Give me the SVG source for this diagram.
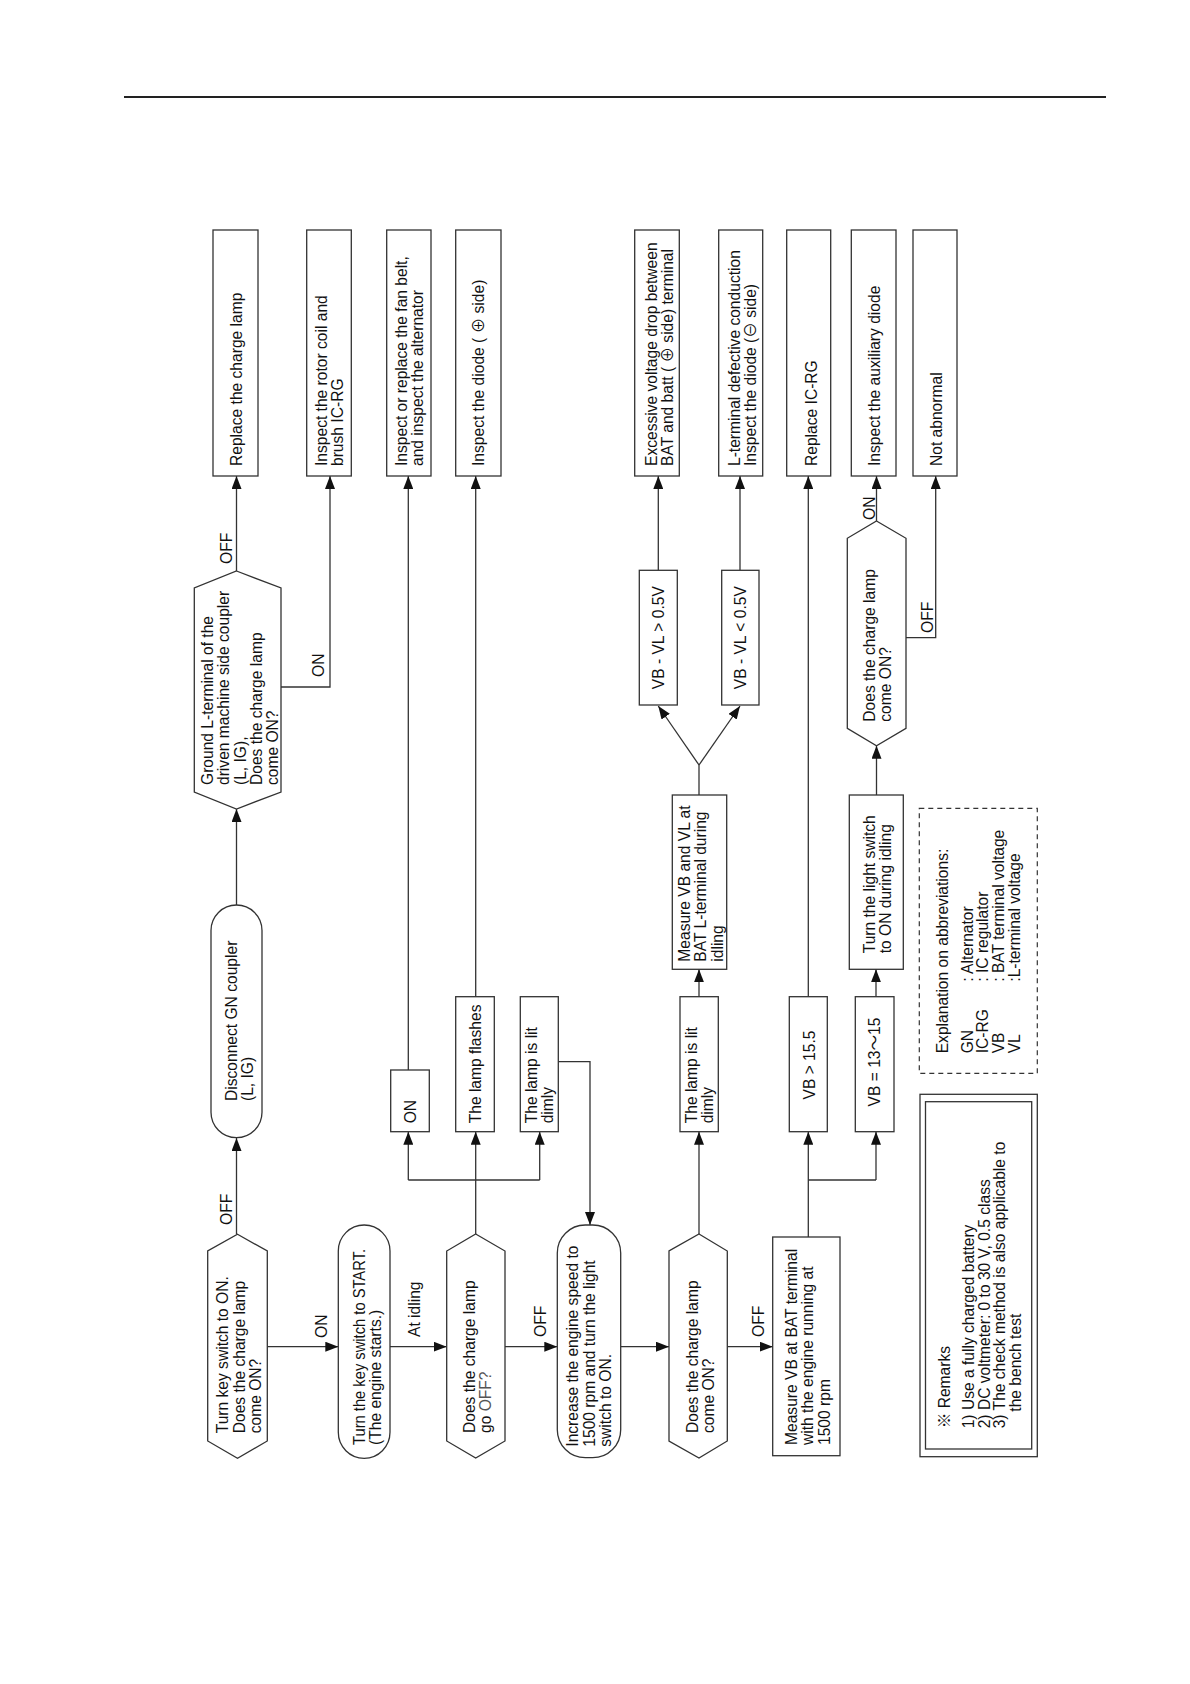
<svg xmlns="http://www.w3.org/2000/svg" width="1190" height="1684" viewBox="0 0 1190 1684">
<defs>
<marker id="arr" markerUnits="userSpaceOnUse" markerWidth="14" markerHeight="10" refX="13" refY="5" orient="auto">
<path d="M0,0 L13,5 L0,10 z" fill="#111"/>
</marker>
<style>
text{font-family:"Liberation Sans",Arial,"Noto Sans CJK JP",sans-serif;font-size:15.6px;fill:#111}
.box{fill:#fff;stroke:#333;stroke-width:1.3}
.dash{fill:none;stroke:#333;stroke-width:1.2;stroke-dasharray:5,4}
.ln{fill:none;stroke:#333;stroke-width:1.3}
.ar{fill:none;stroke:#333;stroke-width:1.3;marker-end:url(#arr)}
.mid{text-anchor:middle}
</style>
</defs>
<rect width="1190" height="1684" fill="#fff"/>
<line x1="124" y1="97" x2="1106" y2="97" stroke="#222" stroke-width="1.8"/>

<g id="connectors">
<line class="ar" x1="236.5" y1="1234" x2="236.5" y2="1138"/>
<line class="ar" x1="236.5" y1="905" x2="236.5" y2="809"/>
<line class="ar" x1="236.5" y1="571" x2="236.5" y2="476"/>
<polyline class="ar" points="281,687 330,687 330,476"/>
<line class="ar" x1="267.3" y1="1346.7" x2="338.3" y2="1346.7"/>
<line class="ar" x1="390" y1="1346.7" x2="446.7" y2="1346.7"/>
<line class="ar" x1="475.7" y1="1234" x2="475.7" y2="1131.7"/>
<line class="ln" x1="408.3" y1="1180" x2="539.7" y2="1180"/>
<line class="ar" x1="408.3" y1="1180" x2="408.3" y2="1131.7"/>
<line class="ar" x1="539.7" y1="1180" x2="539.7" y2="1131.7"/>
<line class="ar" x1="408.3" y1="1070" x2="408.3" y2="476"/>
<line class="ar" x1="475.7" y1="996.7" x2="475.7" y2="476"/>
<polyline class="ar" points="558.3,1061.7 590,1061.7 590,1225"/>
<line class="ar" x1="505" y1="1346.7" x2="557.3" y2="1346.7"/>
<line class="ar" x1="620.7" y1="1346.7" x2="669" y2="1346.7"/>
<line class="ar" x1="699" y1="1234" x2="699" y2="1131.7"/>
<line class="ar" x1="699" y1="996.7" x2="699" y2="969.3"/>
<line class="ln" x1="699" y1="795" x2="699" y2="765"/>
<line class="ar" x1="699" y1="765" x2="658.3" y2="706"/>
<line class="ar" x1="699" y1="765" x2="740" y2="706"/>
<line class="ar" x1="658.3" y1="570.3" x2="658.3" y2="476"/>
<line class="ar" x1="740" y1="570.3" x2="740" y2="476"/>
<line class="ar" x1="727.3" y1="1346.7" x2="772.7" y2="1346.7"/>
<line class="ar" x1="808.3" y1="1237" x2="808.3" y2="1131.7"/>
<line class="ln" x1="808.3" y1="1180" x2="876" y2="1180"/>
<line class="ar" x1="876" y1="1180" x2="876" y2="1131.7"/>
<line class="ar" x1="808.3" y1="996.7" x2="808.3" y2="476"/>
<line class="ar" x1="876" y1="996.7" x2="876" y2="969.3"/>
<line class="ar" x1="876.5" y1="795" x2="876.5" y2="745.7"/>
<line class="ar" x1="876.5" y1="521" x2="876.5" y2="476"/>
<polyline class="ar" points="906,637.7 935.7,637.7 935.7,476"/>
<text transform="translate(231.7,1225) rotate(-90)">OFF</text>
<text transform="translate(326.7,1338) rotate(-90)">ON</text>
<text transform="translate(419.5,1337) rotate(-90)">At idling</text>
<text transform="translate(546,1337) rotate(-90)">OFF</text>
<text transform="translate(764,1337) rotate(-90)">OFF</text>
<text transform="translate(232,564) rotate(-90)">OFF</text>
<text transform="translate(324,677) rotate(-90)">ON</text>
<text transform="translate(874.5,520) rotate(-90)">ON</text>
<text transform="translate(932.5,633) rotate(-90)">OFF</text>
</g>

<g id="n-replace-lamp"><rect class="box" x="213" y="230" width="45" height="246"/>
<text transform="translate(241.5,466) rotate(-90)">Replace the charge lamp</text></g>
<g id="n-rotor"><rect class="box" x="306.7" y="230" width="44.6" height="246"/>
<text transform="translate(326.7,466) rotate(-90)"><tspan x="0" y="0">Inspect the rotor coil and</tspan><tspan x="0" y="16.4">brush IC-RG</tspan></text></g>
<g id="n-fanbelt"><rect class="box" x="386.7" y="230" width="44.3" height="246"/>
<text transform="translate(406.7,466) rotate(-90)"><tspan x="0" y="0">Inspect or replace the fan belt,</tspan><tspan x="0" y="16.4">and inspect the alternator</tspan></text></g>
<g id="n-diode-plus"><rect class="box" x="455.7" y="230" width="45.3" height="246"/>
<text transform="translate(483.5,466) rotate(-90)">Inspect the diode ( ⊕ side)</text></g>
<g id="n-excessive"><rect class="box" x="634.7" y="230" width="44.6" height="246"/>
<text transform="translate(656.7,466) rotate(-90)"><tspan x="0" y="0">Excessive voltage drop between</tspan><tspan x="0" y="16.4">BAT and batt ( ⊕ side) terminal</tspan></text></g>
<g id="n-lterminal"><rect class="box" x="718.7" y="230" width="44" height="246"/>
<text transform="translate(740,466) rotate(-90)"><tspan x="0" y="0">L-terminal defective conduction</tspan><tspan x="0" y="16.4">Inspect the diode (⊖ side)</tspan></text></g>
<g id="n-replace-icrg"><rect class="box" x="786.7" y="230" width="44" height="246"/>
<text transform="translate(816.5,466) rotate(-90)">Replace IC-RG</text></g>
<g id="n-aux-diode"><rect class="box" x="851.3" y="230" width="44.7" height="246"/>
<text transform="translate(880,466) rotate(-90)">Inspect the auxiliary diode</text></g>
<g id="n-not-abnormal"><rect class="box" x="913" y="230" width="44" height="246"/>
<text transform="translate(941.5,466) rotate(-90)">Not abnormal</text></g>

<g id="n-ground"><polygon class="box" points="236.5,571 281,588 281,792 236.5,809 194.3,792 194.3,588"/>
<text transform="translate(212.7,785) rotate(-90)"><tspan x="0" y="0">Ground L-terminal of the</tspan><tspan x="0" y="16.45">driven machine side coupler</tspan><tspan x="0" y="32.9">(L, IG),</tspan><tspan x="0" y="49.35">Does the charge lamp</tspan><tspan x="0" y="65.8">come ON?</tspan></text></g>
<g id="n-disconnect"><rect class="box" x="211" y="905" width="51" height="232.7" rx="25.5" ry="25.5"/>
<text transform="translate(236.7,1101) rotate(-90)"><tspan x="0" y="0">Disconnect GN coupler</tspan><tspan x="0" y="16.4">(L, IG)</tspan></text></g>
<g id="n-turnkey"><polygon class="box" points="237.5,1234.3 267.3,1251 267.3,1441 237.5,1458.3 207.7,1441 207.7,1251"/>
<text transform="translate(228.3,1433.3) rotate(-90)"><tspan x="0" y="0">Turn key switch to ON.</tspan><tspan x="0" y="16.3">Does the charge lamp</tspan><tspan x="0" y="32.6">come ON?</tspan></text></g>
<g id="n-start"><rect class="box" x="338.3" y="1225" width="51.7" height="233.3" rx="26" ry="26"/>
<text transform="translate(364.5,1445) rotate(-90)"><tspan x="0" y="0" textLength="196" lengthAdjust="spacingAndGlyphs">Turn the key switch to START.</tspan><tspan x="0" y="16.4">(The engine starts.)</tspan></text></g>
<g id="n-gooff"><polygon class="box" points="475.7,1234 505,1251 505,1441 475.7,1458 446.7,1441 446.7,1251"/>
<text transform="translate(474.5,1433) rotate(-90)"><tspan x="0" y="0">Does the charge lamp</tspan><tspan x="0" y="16.4">go <tspan fill="#555">OFF?</tspan></tspan></text></g>
<g id="n-on"><rect class="box" x="390.7" y="1070" width="38.6" height="61.7"/>
<text transform="translate(416,1123.3) rotate(-90)">ON</text></g>
<g id="n-flashes"><rect class="box" x="455.7" y="996.7" width="38.6" height="135"/>
<text transform="translate(481,1123.3) rotate(-90)">The lamp flashes</text></g>
<g id="n-dimly1"><rect class="box" x="520.3" y="996.7" width="38" height="135"/>
<text transform="translate(536.7,1123.3) rotate(-90)"><tspan x="0" y="0">The lamp is lit</tspan><tspan x="0" y="16.4">dimly</tspan></text></g>
<g id="n-increase"><rect class="box" x="557.3" y="1225" width="63.4" height="232.7" rx="28" ry="28"/>
<text transform="translate(578,1446.7) rotate(-90)"><tspan x="0" y="0">Increase the engine speed to</tspan><tspan x="0" y="16.5">1500 rpm and turn the light</tspan><tspan x="0" y="33">switch to ON.</tspan></text></g>
<g id="n-comeon"><polygon class="box" points="699,1234 727.3,1251 727.3,1441 699,1458 669,1441 669,1251"/>
<text transform="translate(697.8,1433) rotate(-90)"><tspan x="0" y="0">Does the charge lamp</tspan><tspan x="0" y="16.4">come ON?</tspan></text></g>
<g id="n-dimly2"><rect class="box" x="680" y="996.7" width="38.3" height="135"/>
<text transform="translate(696.7,1123.3) rotate(-90)"><tspan x="0" y="0">The lamp is lit</tspan><tspan x="0" y="16.4">dimly</tspan></text></g>
<g id="n-measure-vl"><rect class="box" x="672.3" y="795" width="54.4" height="174.3"/>
<text transform="translate(690,961.7) rotate(-90)"><tspan x="0" y="0">Measure VB and VL at</tspan><tspan x="0" y="16.4">BAT L-terminal during</tspan><tspan x="0" y="32.8">idling</tspan></text></g>
<g id="n-vbvl-gt"><rect class="box" x="639.3" y="570.3" width="38" height="134.7"/>
<text class="mid" transform="translate(663.5,637.7) rotate(-90)">VB - VL &gt; 0.5V</text></g>
<g id="n-vbvl-lt"><rect class="box" x="721.7" y="570.3" width="37.3" height="134.7"/>
<text class="mid" transform="translate(745.5,637.7) rotate(-90)">VB - VL &lt; 0.5V</text></g>
<g id="n-measure-vb"><rect class="box" x="772.7" y="1237" width="67.3" height="218.7"/>
<text transform="translate(796.5,1445) rotate(-90)"><tspan x="0" y="0">Measure VB at BAT terminal</tspan><tspan x="0" y="16.5">with the engine running at</tspan><tspan x="0" y="33">1500 rpm</tspan></text></g>
<g id="n-vb-gt"><rect class="box" x="789.3" y="996.7" width="38" height="135"/>
<text class="mid" transform="translate(814.5,1065) rotate(-90)">VB &gt; 15.5</text></g>
<g id="n-vb-range"><rect class="box" x="855.3" y="996.7" width="38.7" height="135"/>
<text class="mid" transform="translate(880,1062) rotate(-90)">VB = 13～15</text></g>
<g id="n-light"><rect class="box" x="849.3" y="795" width="54" height="174.3"/>
<text transform="translate(874.5,953.3) rotate(-90)"><tspan x="0" y="0">Turn the light switch</tspan><tspan x="0" y="16.4">to ON during idling</tspan></text></g>
<g id="n-comeon2"><polygon class="box" points="876.5,521 906,538.3 906,728.3 876.5,745.7 847.3,728.3 847.3,538.3"/>
<text transform="translate(874.7,721.7) rotate(-90)"><tspan x="0" y="0">Does the charge lamp</tspan><tspan x="0" y="16.4">come ON?</tspan></text></g>

<g id="n-explanation"><rect class="dash" x="919.3" y="808.3" width="118" height="265"/>
<text transform="translate(948.3,1053.3) rotate(-90)"><tspan x="0" y="0">Explanation on abbreviations:</tspan>
<tspan x="0" y="24.4">GN</tspan><tspan x="71.6" y="24.4">: Alternator</tspan>
<tspan x="0" y="40">IC-RG</tspan><tspan x="71.6" y="40">: IC regulator</tspan>
<tspan x="0" y="55.7">VB</tspan><tspan x="71.6" y="55.7">: BAT terminal voltage</tspan>
<tspan x="0" y="71.5">VL</tspan><tspan x="71.6" y="71.5">:L-terminal voltage</tspan></text></g>
<g id="n-remarks"><rect class="box" x="920" y="1094.3" width="117.3" height="362.4"/>
<rect class="box" x="925.5" y="1101.7" width="106.2" height="347.3"/>
<text transform="translate(949.5,1428.3) rotate(-90)"><tspan x="0" y="0">※ Remarks</tspan>
<tspan x="0" y="24.5">1) Use a fully charged battery</tspan>
<tspan x="0" y="40.3">2) DC voltmeter: 0 to 30 V, 0.5 class</tspan>
<tspan x="0" y="55.8">3) The check method is also applicable to</tspan>
<tspan x="16.6" y="71.2">the bench test</tspan></text></g>
</svg>
